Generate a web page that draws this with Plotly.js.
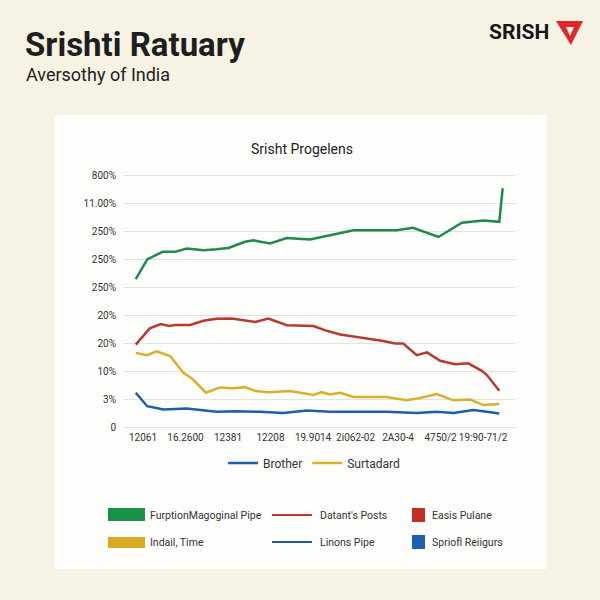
<!DOCTYPE html>
<html>
<head>
<meta charset="utf-8">
<script src="https://cdn.plot.ly/plotly-3.0.1.min.js"></script>
<style>html,body{margin:0;padding:0;background:#f6f3e4;}#chart{width:600px;height:600px;}</style>
</head>
<body>
<div id="chart"></div>
<script>
// ---- data (x in tick-slot units, y in grid-step units) ----
const xTickLabels = ['12061','16.2600','12381','12208','19.9014','2i062-02','2A30-4','4750/2','19:90-71/2'];
const yTickLabels = ['0','3%','10%','20%','20%','250%','250%','250%','11.00%','800%'];

const greenX = [-0.17,0.10,0.46,0.75,1.03,1.42,1.73,2.01,2.40,2.60,2.99,3.38,3.93,4.40,4.64,4.95,5.42,5.97,6.35,6.95,7.50,8.01,8.38,8.46];
const greenY = [5.29,5.99,6.26,6.26,6.38,6.32,6.35,6.40,6.62,6.67,6.56,6.75,6.70,6.86,6.92,7.03,7.03,7.03,7.12,6.79,7.30,7.38,7.33,8.53];

const redX = [-0.17,0.16,0.42,0.62,0.75,1.11,1.42,1.73,2.09,2.36,2.64,2.95,3.38,4.01,4.32,4.64,4.95,5.26,5.65,5.93,6.12,6.44,6.68,6.99,7.34,7.65,7.97,8.09,8.38];
const redY = [2.95,3.53,3.68,3.61,3.65,3.65,3.80,3.87,3.88,3.82,3.76,3.88,3.64,3.61,3.44,3.31,3.23,3.17,3.08,2.99,2.99,2.57,2.67,2.37,2.25,2.28,2.01,1.86,1.30];

const yellowX = [-0.17,0.10,0.32,0.64,0.95,1.15,1.48,1.81,2.12,2.40,2.64,2.95,3.46,4.01,4.20,4.40,4.64,4.95,5.73,6.20,6.52,6.91,7.30,7.69,8.01,8.38];
const yellowY = [2.65,2.57,2.71,2.54,1.94,1.74,1.23,1.42,1.39,1.43,1.29,1.25,1.29,1.15,1.25,1.17,1.23,1.08,1.08,0.96,1.04,1.18,0.96,0.99,0.79,0.83];

const blueX = [-0.17,0.10,0.48,1.03,1.73,2.20,2.75,3.30,3.85,4.40,4.95,5.73,6.44,6.91,7.30,7.77,8.09,8.38];
const blueY = [1.23,0.75,0.63,0.67,0.55,0.57,0.55,0.51,0.60,0.55,0.55,0.55,0.51,0.55,0.51,0.61,0.55,0.49];

const seriesNames = ['Growth', 'Decline', 'Brother', 'Surtadard'];
const legendNames = ['FurptionMagoginal Pipe', "Datant's Posts", 'Easis Pulane', 'Indail, Time', 'Linons Pipe', 'Spriofl Reiigurs'];

// ---- layout helpers (pixel -> paper) ----
const L = 123, R = 515, T = 172, B = 430;
const PX = p => (p - L) / (R - L);
const PY = p => (B - p) / (B - T);

const GREEN = '#1f8a4c', RED = '#b83a2c', YELLOW = '#d6b12a', BLUE = '#1f5ea6';

const traces = [
  {x: greenX, y: greenY, name: seriesNames[0], mode: 'lines', line: {color: GREEN, width: 2.5}, showlegend: false},
  {x: redX, y: redY, name: seriesNames[1], mode: 'lines', line: {color: RED, width: 2.5}, showlegend: false},
  {x: blueX, y: blueY, name: seriesNames[2], mode: 'lines', line: {color: BLUE, width: 2.5}},
  {x: yellowX, y: yellowY, name: seriesNames[3], mode: 'lines', line: {color: YELLOW, width: 2.5}}
];

const txtFont = {family: 'Roboto, Arial, sans-serif', size: 10.5, color: '#333'};

const shapes = [
  // white panel
  {type: 'rect', xref: 'paper', yref: 'paper', x0: PX(54), x1: PX(547), y0: PY(569), y1: PY(115),
   fillcolor: '#fdfdfc', line: {width: 0}, layer: 'below'},
  // custom legend row 1
  {type: 'rect', xref: 'paper', yref: 'paper', x0: PX(108), x1: PX(145), y0: PY(521), y1: PY(508), fillcolor: '#18924b', line: {width: 0}},
  {type: 'line', xref: 'paper', yref: 'paper', x0: PX(272), x1: PX(312), y0: PY(515), y1: PY(515), line: {color: RED, width: 2}},
  {type: 'rect', xref: 'paper', yref: 'paper', x0: PX(412), x1: PX(425), y0: PY(522), y1: PY(508), fillcolor: '#c0321f', line: {width: 0}},
  // row 2
  {type: 'rect', xref: 'paper', yref: 'paper', x0: PX(108), x1: PX(145), y0: PY(548), y1: PY(537), fillcolor: '#d8aa22', line: {width: 0}},
  {type: 'line', xref: 'paper', yref: 'paper', x0: PX(272), x1: PX(312), y0: PY(542), y1: PY(542), line: {color: BLUE, width: 2}},
  {type: 'rect', xref: 'paper', yref: 'paper', x0: PX(412), x1: PX(425), y0: PY(549), y1: PY(535), fillcolor: '#1d5fb5', line: {width: 0}},
  // logo mark
  {type: 'path', xref: 'paper', yref: 'paper',
   path: `M ${PX(556)} ${PY(21)} L ${PX(583)} ${PY(21)} L ${PX(571)} ${PY(45)} Z`,
   fillcolor: '#e0262c', line: {width: 0}},
  {type: 'path', xref: 'paper', yref: 'paper',
   path: `M ${PX(566)} ${PY(27)} L ${PX(574)} ${PY(27)} L ${PX(570)} ${PY(36)} Z`,
   fillcolor: '#f6f3e4', line: {width: 0}}
];

const ann = (text, px, py, opts = {}) => Object.assign({
  text, xref: 'paper', yref: 'paper', x: PX(px), y: PY(py), xanchor: 'left', yanchor: 'middle',
  showarrow: false, font: txtFont
}, opts);

const annotations = [
  ann('<b>Srishti Ratuary</b>', 23, 44, {font: {family: 'Roboto, Arial, sans-serif', size: 33, color: '#1e1e1e'}}),
  ann('Aversothy of India', 24, 74, {font: {family: 'Roboto, Arial, sans-serif', size: 18, color: '#222'}}),
  ann('<b>SRISH</b>', 487, 32, {font: {family: 'Roboto, Arial, sans-serif', size: 21, color: '#151515'}}),
  ann(legendNames[0], 148, 515),
  ann(legendNames[1], 318, 515),
  ann(legendNames[2], 430, 515),
  ann(legendNames[3], 148, 542),
  ann(legendNames[4], 318, 542),
  ann(legendNames[5], 430, 542)
];

const layout = {
  width: 600, height: 600,
  margin: {l: L, r: 600 - R, t: T, b: 600 - B, pad: 0},
  paper_bgcolor: '#f6f3e4',
  plot_bgcolor: 'rgba(0,0,0,0)',
  font: {family: 'Roboto, Arial, sans-serif', color: '#333', size: 11},
  title: {text: 'Srisht Progelens', x: 302 / 600, xanchor: 'center', y: 1 - 149 / 600, yanchor: 'middle',
          font: {family: 'Roboto, Arial, sans-serif', size: 14, color: '#222'}},
  xaxis: {range: [-0.47, 8.75], tickmode: 'array', tickvals: xTickLabels.map((_, i) => i), ticktext: xTickLabels,
          tickangle: 0, showgrid: false, zeroline: false, showline: false, ticks: '', ticklen: 0,
          tickfont: {size: 10, color: '#333'}, fixedrange: true},
  yaxis: {range: [-0.1, 9.11], tickmode: 'array', tickvals: yTickLabels.map((_, i) => i), ticktext: yTickLabels,
          showgrid: true, gridcolor: '#e3e3e3', gridwidth: 1, zeroline: false, showline: false,
          ticks: '', ticklabelstandoff: 6, tickfont: {size: 10, color: '#333'}, fixedrange: true},
  legend: {orientation: 'h', x: PX(314), xanchor: 'center', y: PY(463), yanchor: 'middle',
           font: {size: 12, color: '#333'}, bgcolor: 'rgba(0,0,0,0)', itemwidth: 30},
  shapes, annotations
};

Plotly.newPlot('chart', traces, layout, {displayModeBar: false, staticPlot: true});
</script>
</body>
</html>
